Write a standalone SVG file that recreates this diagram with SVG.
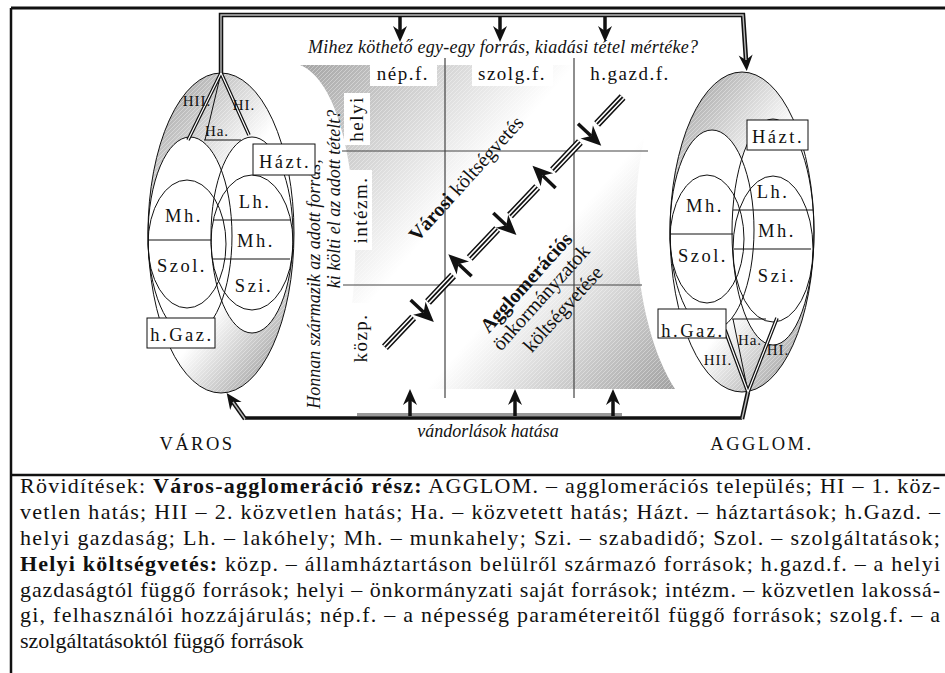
<svg xmlns="http://www.w3.org/2000/svg" width="945" height="673" viewBox="0 0 945 673">
<style>
  text{font-family:"Liberation Serif","Times New Roman",serif;fill:#111}
  .lab{font-size:18.5px;letter-spacing:2.5px;text-anchor:middle}
  .hl{font-size:15px;letter-spacing:1px;text-anchor:middle}
  .col{font-size:19px;letter-spacing:1.5px;text-anchor:middle}
  .it{font-style:italic;font-size:18px}
  .cap{font-size:22px}
  .b{font-weight:bold}
  .thin{stroke:#111;stroke-width:1;fill:none}
  .wfill{fill:#fff;stroke:none}
  .dbo{stroke:#111;stroke-width:4.5;fill:none}
  .dbi{stroke:#bbb;stroke-width:1.4;fill:none}
  .dso{stroke:#111;stroke-width:3.6;fill:none}
  .dsi{stroke:#fff;stroke-width:1.2;fill:none}
  .grid{stroke:#444;stroke-width:1.2;fill:none}
  .tri1{stroke:#111;stroke-width:8;fill:none}
  .tri2{stroke:#fff;stroke-width:5;fill:none}
  .tri3{stroke:#111;stroke-width:1.8;fill:none}
  .arr{stroke:#111;stroke-width:3.5;fill:none}
  .box{fill:#fff;stroke:#111;stroke-width:1}
</style>
<defs>
  <linearGradient id="gL" gradientUnits="userSpaceOnUse" x1="155" y1="130" x2="339" y2="269">
    <stop offset="0" stop-color="#b4b4b4"/><stop offset="0.4" stop-color="#fff"/><stop offset="0.68" stop-color="#fff"/><stop offset="1" stop-color="#b0b0b0"/>
  </linearGradient>
  <linearGradient id="gR" gradientUnits="userSpaceOnUse" x1="676" y1="129" x2="860" y2="268">
    <stop offset="0" stop-color="#b4b4b4"/><stop offset="0.4" stop-color="#fff"/><stop offset="0.68" stop-color="#fff"/><stop offset="1" stop-color="#b0b0b0"/>
  </linearGradient>
  <linearGradient id="gC" gradientUnits="userSpaceOnUse" x1="300" y1="65" x2="675" y2="389">
    <stop offset="0" stop-color="#a4a4a4"/><stop offset="0.42" stop-color="#fff"/><stop offset="0.62" stop-color="#fff"/><stop offset="1" stop-color="#a0a0a0"/>
  </linearGradient>
  <pattern id="hatch" patternUnits="userSpaceOnUse" width="4" height="4">
    <path d="M-1,1 L1,-1 M0,4 L4,0 M3,5 L5,3" stroke="#fff" stroke-width="0.7" opacity="0.5"/>
  </pattern>
  <marker id="hd" markerUnits="userSpaceOnUse" viewBox="-6 -8 20 16" refX="0" refY="0" markerWidth="20" markerHeight="16" orient="auto">
    <path d="M11,0 L-5,-7 L0,0 L-5,7 Z" fill="#111"/>
  </marker>
  <marker id="hdL" markerUnits="userSpaceOnUse" viewBox="-7 -10 23 20" refX="0" refY="0" markerWidth="23" markerHeight="20" orient="auto">
    <path d="M14,0 L-6,-9 L0,0 L-6,9 Z" fill="#111"/>
  </marker>
</defs>

<!-- frame -->
<g id="frame">
  <rect x="0" y="0" width="945" height="673" fill="#fff"/>
  <path d="M11,8 H945" stroke="#111" stroke-width="3"/>
  <path d="M11,8 V673" stroke="#111" stroke-width="2.5"/>
  <path d="M11,475 H945" stroke="#111" stroke-width="2.5"/>
</g>

<!-- central budget matrix -->
<g id="budget">
  <path d="M300,65 L685,65 C625,100 618,300 675,389 L333,389 C370,300 362,90 300,65 Z" fill="url(#gC)"/>
  <path d="M300,65 L685,65 C625,100 618,300 675,389 L333,389 C370,300 362,90 300,65 Z" fill="url(#hatch)"/>
  <rect x="370" y="63" width="67" height="23" class="wfill"/>
  <rect x="472" y="63" width="81" height="23" class="wfill"/>
  <rect x="583" y="63" width="95" height="23" class="wfill"/>
  <rect x="344" y="93" width="26" height="52" class="wfill"/>
  <rect x="346" y="170" width="26" height="80" class="wfill"/>
  <rect x="349" y="303" width="27" height="65" class="wfill"/>
  <path class="grid" d="M445,58 V398 M574,58 V398"/>
  <path class="grid" d="M342,151 H648 M343,285 H642"/>
  <text class="it" x="308" y="53" textLength="390" lengthAdjust="spacing">Mihez köthető egy-egy forrás, kiadási tétel mértéke?</text>
  <text class="col" x="403" y="80">nép.f.</text>
  <text class="col" x="512" y="80">szolg.f.</text>
  <text class="col" x="630" y="80">h.gazd.f.</text>
  <text class="it" transform="translate(320,284) rotate(-90)" text-anchor="middle">Honnan származik az adott forrás,</text>
  <text class="it" transform="translate(340,199) rotate(-90)" text-anchor="middle">ki költi el az adott tételt?</text>
  <text class="col" transform="translate(363,119) rotate(-90)">helyi</text>
  <text class="col" transform="translate(367,210) rotate(-90)">intézm.</text>
  <text class="col" transform="translate(367,338) rotate(-90)">közp.</text>
  <text font-size="20" transform="translate(471,183) rotate(-48)" text-anchor="middle"><tspan font-weight="bold">Városi</tspan> költségvetés</text>
  <g font-size="20" transform="translate(531,287) rotate(-48)" text-anchor="middle">
    <text x="0" y="0" font-weight="bold">Agglomerációs</text>
    <text x="-1" y="21">önkormányzatok</text>
    <text x="5" y="45">költségvetése</text>
  </g>
  <!-- border track between city and agglomeration budgets -->
  <g id="track">
    <path class="tri1" d="M384.9,347.2 L413.2,317.4 M428,301.9 L453.1,275.4 M469.7,258 L497.2,229 M510,215.6 L537.2,187 M553,170.3 L579.9,142 M597.1,123.9 L622.6,97.1"/>
    <path class="tri2" d="M384.9,347.2 L413.2,317.4 M428,301.9 L453.1,275.4 M469.7,258 L497.2,229 M510,215.6 L537.2,187 M553,170.3 L579.9,142 M597.1,123.9 L622.6,97.1"/>
    <path class="tri3" d="M384.9,347.2 L413.2,317.4 M428,301.9 L453.1,275.4 M469.7,258 L497.2,229 M510,215.6 L537.2,187 M553,170.3 L579.9,142 M597.1,123.9 L622.6,97.1"/>
  </g>
</g>

<!-- left: city -->
<g id="varos">
  <ellipse cx="221" cy="233" rx="73" ry="160" fill="url(#gL)"/>
  <ellipse cx="221" cy="233" rx="73" ry="160" fill="url(#hatch)"/>
  <ellipse cx="190" cy="236" rx="42" ry="99" class="wfill"/>
  <ellipse cx="252" cy="235" rx="41" ry="98" class="wfill"/>
  <ellipse cx="187" cy="244" rx="39" ry="64" class="wfill"/>
  <ellipse cx="252" cy="242.5" rx="41" ry="67.5" class="wfill"/>
  <ellipse cx="221" cy="233" rx="73" ry="160" class="thin"/>
  <ellipse cx="190" cy="236" rx="42" ry="99" class="thin"/>
  <ellipse cx="252" cy="235" rx="41" ry="98" class="thin"/>
  <ellipse cx="187" cy="244" rx="39" ry="64" class="thin"/>
  <ellipse cx="252" cy="242.5" rx="41" ry="67.5" class="thin"/>
  <path class="thin" d="M148,240 H211 M213,220 H291 M212,259 H290"/>
  <path class="thin" d="M221,73 L205,140 M204,140 H241"/>
  <path class="dso" d="M221,73 L188,140 M221,73 L249,135"/>
  <path class="dsi" d="M221,73 L188,140 M221,73 L249,135"/>
  <rect x="253" y="144" width="62" height="31" class="box"/>
  <rect x="147" y="318" width="68" height="30" class="box"/>
  <text class="hl" x="197" y="106">HII.</text>
  <text class="hl" x="244" y="110">HI.</text>
  <text class="hl" x="217" y="136">Ha.</text>
  <text class="lab" x="285" y="168">Házt.</text>
  <text class="lab" x="255" y="208">Lh.</text>
  <text class="lab" x="184" y="222">Mh.</text>
  <text class="lab" x="182" y="272">Szol.</text>
  <text class="lab" x="256" y="247">Mh.</text>
  <text class="lab" x="254" y="292">Szi.</text>
  <text class="lab" x="182" y="341">h.Gaz.</text>
  <text class="lab" x="197" y="450">VÁROS</text>
</g>

<!-- right: agglomeration settlement -->
<g id="agglom">
  <ellipse cx="742" cy="232" rx="72" ry="160" fill="url(#gR)"/>
  <ellipse cx="742" cy="232" rx="72" ry="160" fill="url(#hatch)"/>
  <ellipse cx="712" cy="230" rx="42" ry="100" class="wfill"/>
  <ellipse cx="773" cy="232" rx="41" ry="113" class="wfill"/>
  <ellipse cx="707" cy="239" rx="37" ry="64" class="wfill"/>
  <ellipse cx="773" cy="249" rx="40" ry="73" class="wfill"/>
  <ellipse cx="742" cy="232" rx="72" ry="160" class="thin"/>
  <ellipse cx="712" cy="230" rx="42" ry="100" class="thin"/>
  <ellipse cx="773" cy="232" rx="41" ry="113" class="thin"/>
  <ellipse cx="707" cy="239" rx="37" ry="64" class="thin"/>
  <ellipse cx="773" cy="249" rx="40" ry="73" class="thin"/>
  <path class="thin" d="M670,234 H733 M733,210 H813 M734,249 H811"/>
  <path class="thin" d="M748,392 L733,319 M732,319 H766"/>
  <path class="dso" d="M748,392 L725,330 M748,392 L777,318"/>
  <path class="dsi" d="M748,392 L725,330 M748,392 L777,318"/>
  <rect x="747" y="120" width="61" height="30" class="box"/>
  <rect x="658" y="309" width="68" height="29" class="box"/>
  <text class="lab" x="778" y="143">Házt.</text>
  <text class="lab" x="773" y="198">Lh.</text>
  <text class="lab" x="705" y="212">Mh.</text>
  <text class="lab" x="703" y="262">Szol.</text>
  <text class="lab" x="777" y="237">Mh.</text>
  <text class="lab" x="777" y="282">Szi.</text>
  <text class="lab" x="693" y="337">h.Gaz.</text>
  <text class="hl" x="718" y="365">HII.</text>
  <text class="hl" x="750" y="345">Ha.</text>
  <text class="hl" x="778" y="355">HI.</text>
  <text class="lab" x="762" y="450">AGGLOM.</text>
</g>

<!-- connectors -->
<g id="connectors">
  <path class="dbo" d="M221,73 V15 H743 L746,60" marker-end="url(#hd)"/>
  <path class="dbi" d="M221,73 V15 H743 L746,60"/>
  <path class="arr" d="M400,17 V31" marker-end="url(#hd)"/>
  <path class="arr" d="M500,17 V31" marker-end="url(#hd)"/>
  <path class="arr" d="M605,17 V31" marker-end="url(#hd)"/>
  <path d="M245,418 H742" stroke="#111" stroke-width="3.5"/>
  <rect x="357" y="413" width="265" height="3" fill="#999"/>
  <path class="dbo" d="M245,419 L233,402" marker-end="url(#hd)"/>
  <path class="dbi" d="M245,419 L233,402"/>
  <path class="dbo" d="M742,419 L748,392"/>
  <path class="dbi" d="M742,419 L748,392"/>
  <path class="arr" d="M410,416 V400" marker-end="url(#hd)"/>
  <path class="arr" d="M515,416 V400" marker-end="url(#hd)"/>
  <path class="arr" d="M613,416 V400" marker-end="url(#hd)"/>
  <path class="arr" d="M410.65,299.9 L423.7,312.3" marker-end="url(#hdL)"/>
  <path class="arr" d="M471.6,276.3 L458.5,263.9" marker-end="url(#hdL)"/>
  <path class="arr" d="M493.3,212.9 L506.3,225.3" marker-end="url(#hdL)"/>
  <path class="arr" d="M555.6,187.9 L542.6,175.5" marker-end="url(#hdL)"/>
  <path class="arr" d="M578,123.7 L591.1,136.1" marker-end="url(#hdL)"/>
  <text class="it" x="488" y="437" text-anchor="middle" font-size="17">vándorlások hatása</text>
</g>

<!-- caption -->
<g id="caption" class="cap">
  <text class="cap" x="20" y="493" textLength="920" lengthAdjust="spacing">Rövidítések: <tspan class="b">Város-agglomeráció rész:</tspan> AGGLOM. – agglomerációs település; HI – 1. köz-</text>
  <text class="cap" x="20" y="519" textLength="920" lengthAdjust="spacing">vetlen hatás; HII – 2. közvetlen hatás; Ha. – közvetett hatás; Házt. – háztartások; h.Gazd. –</text>
  <text class="cap" x="20" y="545" textLength="920" lengthAdjust="spacing">helyi gazdaság; Lh. – lakóhely; Mh. – munkahely; Szi. – szabadidő; Szol. – szolgáltatások;</text>
  <text class="cap" x="20" y="571" textLength="920" lengthAdjust="spacing"><tspan class="b">Helyi költségvetés:</tspan> közp. – államháztartáson belülről származó források; h.gazd.f. – a helyi</text>
  <text class="cap" x="20" y="597" textLength="920" lengthAdjust="spacing">gazdaságtól függő források; helyi – önkormányzati saját források; intézm. – közvetlen lakossá-</text>
  <text class="cap" x="20" y="622" textLength="920" lengthAdjust="spacing">gi, felhasználói hozzájárulás; nép.f. – a népesség paramétereitől függő források; szolg.f. – a</text>
  <text class="cap" x="20" y="648">szolgáltatásoktól függő források</text>
</g>
</svg>
